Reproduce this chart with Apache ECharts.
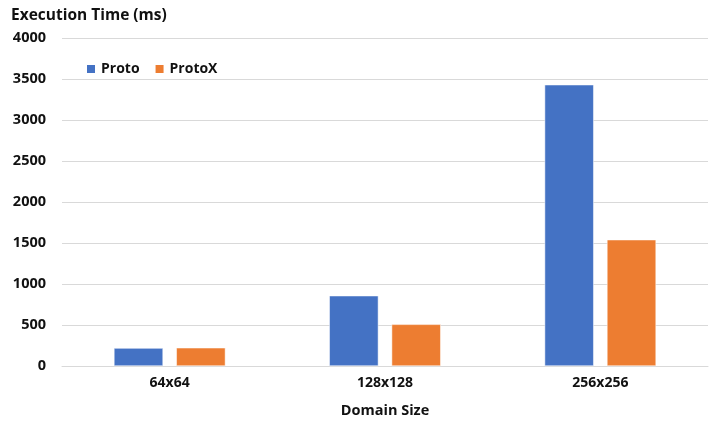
<!DOCTYPE html>
<html>
<head>
<meta charset="utf-8">
<script src="https://cdn.jsdelivr.net/npm/echarts@6/dist/echarts.min.js"></script>
<style>
  html, body { margin: 0; padding: 0; background: #fff; }
  #box { width: 718px; height: 424px; }
</style>
</head>
<body>
<div id="box"></div>
<script>
// data
const categories = ['64x64', '128x128', '256x256'];
const protoTimes = [218, 857, 3430];
const protoXTimes = [222, 508, 1540];
const yTicks = [0, 500, 1000, 1500, 2000, 2500, 3000, 3500, 4000];

const chartDom = document.getElementById('box');
const myChart = echarts.init(chartDom);

const font = 'Open Sans, Liberation Sans, sans-serif';

var option = {
  animation: false,
  textStyle: { fontFamily: font },
  title: {
    text: 'Execution Time (ms)',
    left: 6,
    top: 3,
    textStyle: { fontSize: 15.5, fontWeight: 'bold', color: '#111', fontFamily: font }
  },
  legend: {
    left: 80,
    top: 57,
    itemWidth: 10,
    itemHeight: 10,
    itemGap: 14,
    icon: 'rect',
    textStyle: { fontSize: 14, fontWeight: 'bold', color: '#111', fontFamily: font },
    data: ['Proto', 'ProtoX']
  },
  grid: {
    left: 62,
    right: 10,
    top: 38,
    bottom: 58,
    outerBoundsMode: 'none',
    containLabel: false
  },
  xAxis: {
    type: 'category',
    data: categories,
    name: 'Domain Size',
    nameLocation: 'middle',
    nameGap: 37,
    nameTextStyle: { fontSize: 14.5, fontWeight: 'bold', color: '#111', fontFamily: font },
    axisLine: { lineStyle: { color: '#d9d9d9' } },
    axisTick: { show: false },
    axisLabel: { fontSize: 14, fontWeight: 'bold', color: '#111', margin: 10, fontFamily: font }
  },
  yAxis: {
    type: 'value',
    min: yTicks[0],
    max: yTicks[yTicks.length - 1],
    interval: 500,
    axisLine: { show: false },
    axisTick: { show: false },
    splitLine: { lineStyle: { color: '#d9d9d9' } },
    axisLabel: {
      fontSize: 14.5, fontWeight: 'bold', color: '#111', margin: 16, fontFamily: font,
      formatter: v => String(v)
    }
  },
  series: [
    {
      name: 'Proto',
      type: 'bar',
      data: protoTimes,
      barWidth: '22.8%',
      barGap: '27%',
      itemStyle: { color: '#4472C4', borderColor: '#fff', borderWidth: 0.5 }
    },
    {
      name: 'ProtoX',
      type: 'bar',
      data: protoXTimes,
      barWidth: '22.8%',
      itemStyle: { color: '#ED7D31', borderColor: '#fff', borderWidth: 0.5 }
    }
  ]
};
option && myChart.setOption(option);
</script>
</body>
</html>
